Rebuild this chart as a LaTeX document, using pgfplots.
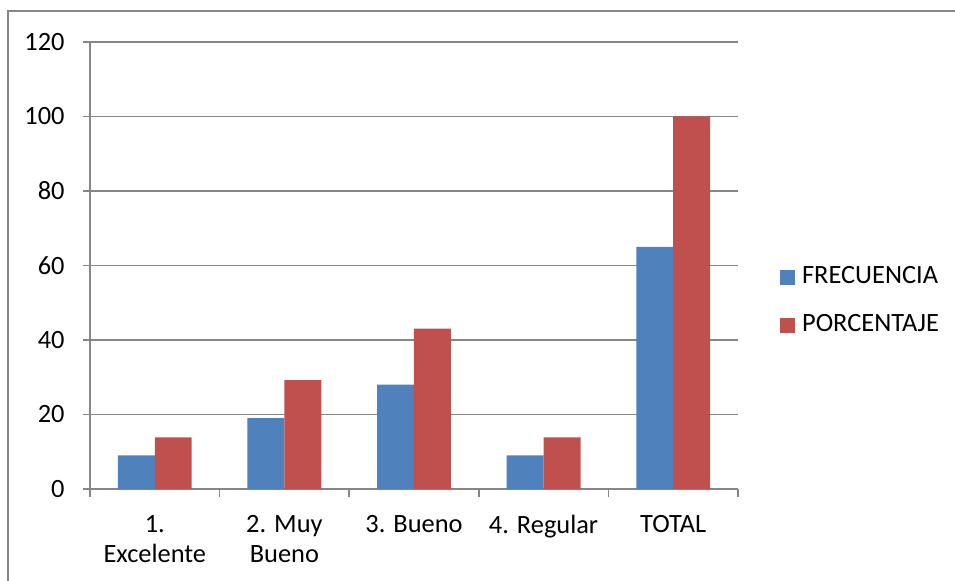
\documentclass[border=0pt]{standalone}
\usepackage{fontspec}
\setmainfont{Carlito}
\usepackage{pgfplots}
\pgfplotsset{compat=1.18}
\definecolor{cblue}{RGB}{79,129,189}
\definecolor{cred}{RGB}{192,80,77}
\definecolor{cgray}{RGB}{134,134,134}
\begin{document}
\fontsize{13pt}{15pt}\selectfont
\begin{tikzpicture}
\useasboundingbox (0,0) rectangle (477.5pt,-290.5pt);
\draw[cgray, line width=0.75pt] (4pt,-290.5pt) -- (4pt,-5.5pt) -- (477.5pt,-5.5pt);
\begin{axis}[
  at={(45pt,-244.5pt)}, anchor=south west,
  width=324pt, height=223.5pt, scale only axis,
  xmin=-0.5, xmax=4.5, ymin=0, ymax=120,
  ytick={0,20,...,120},
  xtick={0,1,2,3,4},
  xticklabels={{1.\\Excelente},{2. Muy\\Bueno},{3. Bueno},{4. Regular},{TOTAL}},
  minor xtick={-0.5,0.5,...,4.5},
  axis x line*=bottom, axis y line*=left,
  axis line style={cgray, line width=0.75pt, -},
  tick align=outside,
  major tick length=3.5pt, minor tick length=4pt,
  x tick style={draw=none}, minor x tick style={cgray, line width=0.75pt, draw=cgray},
  y tick style={cgray, line width=0.75pt},
  ymajorgrids, grid style={cgray, line width=0.75pt},
  /pgf/number format/assume math mode=true,
  tick label style={font=\fontsize{13.2pt}{15pt}\selectfont, text=black},
  yticklabel style={anchor=east, inner sep=0pt},
  yticklabel shift=9pt,
  xticklabel style={anchor=north, align=center, inner sep=0pt},
  xticklabel shift=9.5pt,
  ybar=0pt, bar width=0.285,
  legend style={at={(1.065,0.42)}, anchor=west, draw=none, fill=none,
    inner sep=0pt, outer sep=0pt,
    font=\fontsize{13.2pt}{15pt}\selectfont,
    nodes={inner sep=0pt, text height=9pt, text depth=3pt},
    row sep=12pt, column sep=3.5pt},
  legend cell align=left,
  legend image code/.code={\fill[#1] (0pt,-3.75pt) rectangle (7.5pt,3.75pt);},
]
\addplot[fill=cblue, draw=none] coordinates {(0,9) (1,19) (2,28) (3,9) (4,65)};
\addplot[fill=cred, draw=none] coordinates {(0,13.85) (1,29.23) (2,43.08) (3,13.85) (4,100)};
\legend{FRECUENCIA,PORCENTAJE}
\end{axis}
\end{tikzpicture}
\end{document}
